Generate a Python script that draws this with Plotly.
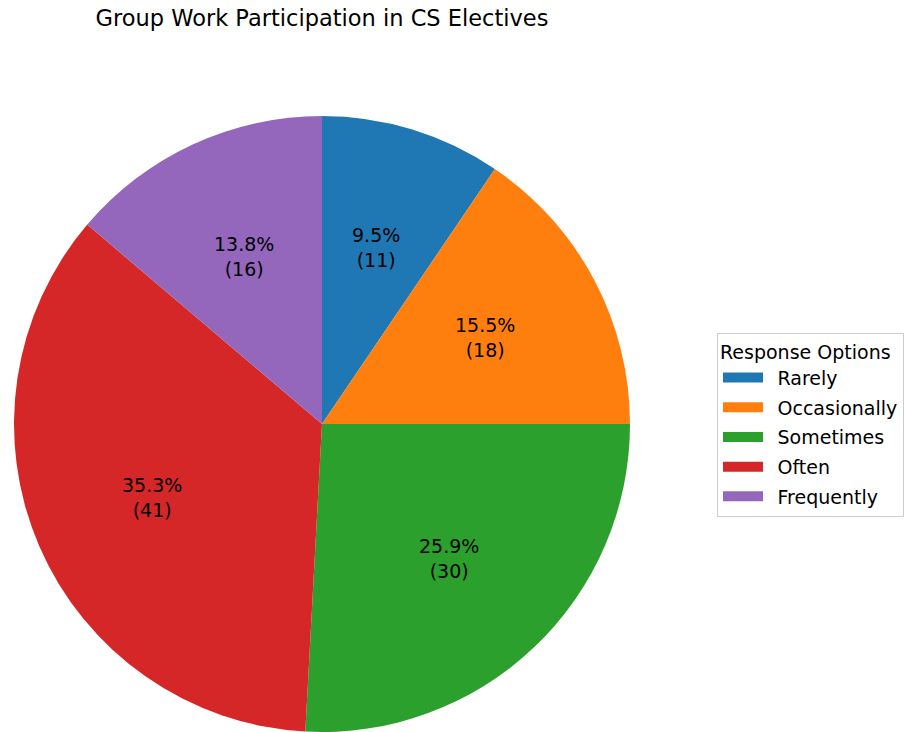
import math
import plotly.graph_objects as go

# Survey responses
categories = ["Rarely", "Occasionally", "Sometimes", "Often", "Frequently"]
counts = [11, 18, 30, 41, 16]
colors = ["#1f77b4", "#ff7f0e", "#2ca02c", "#d62728", "#9467bd"]

W, H = 906, 732
cx, cy, r = 322, 424, 308  # pie centre / radius in pixels
FONT = "DejaVu Sans"

fig = go.Figure(
    go.Pie(
        labels=categories,
        values=counts,
        marker=dict(colors=colors, line=dict(width=0)),
        sort=False,
        direction="clockwise",
        rotation=0,
        textinfo="none",
        hoverinfo="label+value+percent",
        showlegend=False,
        domain=dict(x=[(cx - r) / W, (cx + r) / W], y=[1 - (cy + r) / H, 1 - (cy - r) / H]),
    )
)

# Legend entries with wide rectangular swatches, one per category
for name, col in zip(categories, colors):
    fig.add_trace(
        go.Scatter(
            x=[None], y=[None], mode="lines", name="\u2002" + name,
            line=dict(color=col, width=10), legendgroup=name,
            hoverinfo="skip",
        )
    )

# Percentage / count labels at 60% of the radius, on each slice's bisector
total = sum(counts)
acc = 0
annotations = []
for c in counts:
    mid = (acc + c / 2) / total * 2 * math.pi
    acc += c
    px = cx + 0.6 * r * math.sin(mid)
    py = cy - 0.6 * r * math.cos(mid)
    annotations.append(
        dict(
            x=px / W, y=1 - py / H, xref="paper", yref="paper",
            text=f"{100 * c / total:.1f}%<br>({c})",
            showarrow=False, xanchor="center", yanchor="middle",
            font=dict(family=FONT, size=19, color="#000000"),
        )
    )

fig.update_layout(
    width=W, height=H,
    margin=dict(l=0, r=0, t=0, b=0, autoexpand=False),
    paper_bgcolor="white",
    plot_bgcolor="white",
    font=dict(family=FONT, size=19, color="#000000"),
    xaxis=dict(visible=False),
    yaxis=dict(visible=False),
    title=dict(
        text="Group Work Participation in CS Electives",
        x=cx / W, xanchor="center", y=1 - 18 / H, yanchor="middle",
        font=dict(family=FONT, size=22.5, color="#000000"),
    ),
    legend=dict(
        title=dict(text="Response Options", font=dict(family=FONT, size=19)),
        x=717 / W, xanchor="left", y=1 - 333 / H, yanchor="top",
        bordercolor="#cccccc", borderwidth=1, bgcolor="white",
        font=dict(family=FONT, size=19, color="#000000"),
        itemwidth=40, tracegroupgap=2,
    ),
    annotations=annotations,
)

fig.write_html("out.html")
